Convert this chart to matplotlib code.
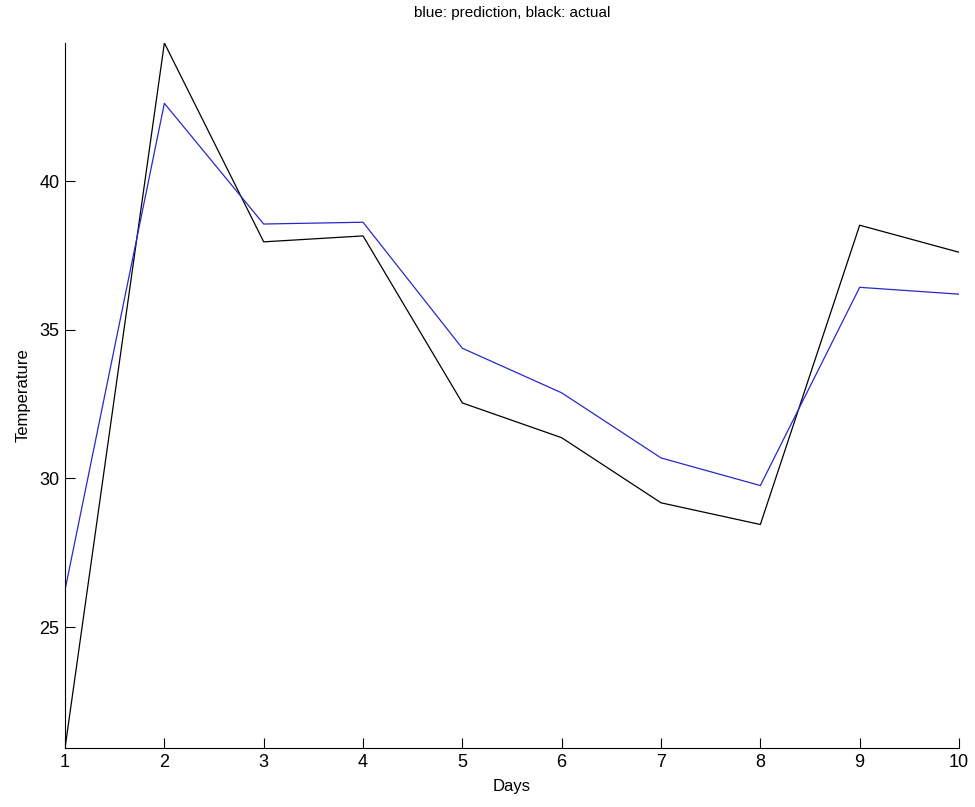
import matplotlib
matplotlib.use("Agg")
import matplotlib.pyplot as plt

days = [1, 2, 3, 4, 5, 6, 7, 8, 9, 10]
prediction = [26.25, 42.62, 38.56, 38.62, 34.38, 32.88, 30.69, 29.76, 36.43, 36.2]
actual = [20.93, 44.65, 37.96, 38.16, 32.54, 31.37, 29.18, 28.45, 38.52, 37.61]
y_ticks = [25, 30, 35, 40]

plt.rcParams["font.family"] = ["Liberation Sans", "DejaVu Sans"]

fig = plt.figure(figsize=(9.75, 8.07), dpi=100)
ax = fig.add_axes([0.0667, 0.0731, 0.9169, 0.8736])

ax.plot(days, actual, color="black", linewidth=0.9)
ax.plot(days, prediction, color="#2828c8", linewidth=0.9)

ax.set_xlim(min(days), max(days))
ax.set_ylim(min(actual), max(actual))
ax.set_xticks(days)
ax.set_yticks(y_ticks)

ax.spines["top"].set_visible(False)
ax.spines["right"].set_visible(False)
ax.tick_params(direction="in", length=7, width=0.8, labelsize=13, pad=4)

ax.set_xlabel("Days", fontsize=12, labelpad=6)
ax.set_ylabel("Temperature", fontsize=12, labelpad=6)
ax.set_title("blue: prediction, black: actual", fontsize=11, pad=19)

fig.savefig("out.png", dpi=100)
